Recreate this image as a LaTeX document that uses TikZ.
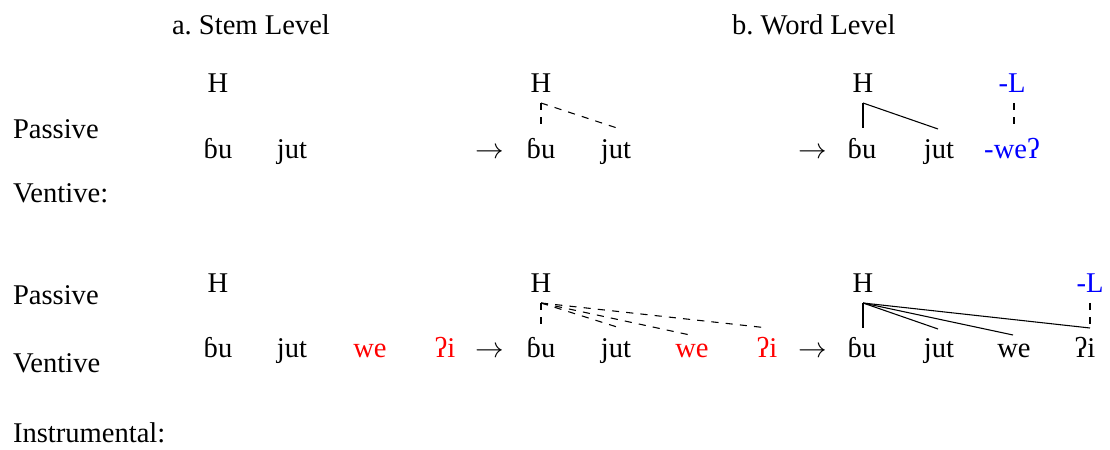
\documentclass[tikz,border=0pt]{standalone}
\usepackage{fontspec}
\setmainfont{Liberation Serif}
\begin{document}
\begin{tikzpicture}[x=0.42pt,y=-0.42pt,
  every node/.style={font=\fontsize{12}{14}\selectfont, inner sep=0pt, outer sep=0pt},
  txt/.style={anchor=base},
  lbl/.style={anchor=base west},
  red/.style={text={rgb,255:red,255;green,0;blue,0}},
  blu/.style={text={rgb,255:red,0;green,0;blue,255}},
  assoc/.style={line width=0.45pt},
  newassoc/.style={line width=0.45pt, dashed}]
\useasboundingbox (0,0) rectangle (1110,450);

% titles and labels
\node[lbl] (ta) at (172,35) {a.\ Stem Level};
\node[lbl] (tb) at (732,35) {b.\ Word Level};
\node[lbl] (p1) at (13,139) {Passive};
\node[lbl] (v1) at (13,203) {Ventive:};
\node[lbl] (p2) at (13,305) {Passive};
\node[lbl] (v2) at (13,373) {Ventive};
\node[lbl] (i2) at (13,443) {Instrumental:};

% ---------- row 1 ----------
\node[txt] (r1aH) at (218,93) {H};
\node[txt] (r1abu) at (218,159) {ɓu};
\node[txt] (r1ajut) at (292,159) {jut};
\node[txt] (r1arr1) at (490,159) {$\rightarrow$};
\node[txt] (r1bH) at (541,93) {H};
\node[txt] (r1bbu) at (541,159) {ɓu};
\node[txt] (r1bjut) at (616,159) {jut};
\node[txt] (r1arr2) at (813,159) {$\rightarrow$};
\node[txt] (r1cH) at (863,93) {H};
\node[txt,blu] (r1cL) at (1012,93) {-L};
\node[txt] (r1cbu) at (862,159) {ɓu};
\node[txt] (r1cjut) at (939,159) {jut};
\node[txt,blu] (r1cwe) at (1012,159) {-weʔ};

\coordinate (r1bHc) at (541,103);
\coordinate (r1bbut) at (541,127);
\coordinate (r1bjutt) at (617,128);
\draw[newassoc] (r1bHc) -- (r1bbut);
\draw[newassoc] (r1bHc) -- (r1bjutt);

\coordinate (r1cHc) at (863,103);
\coordinate (r1cbut) at (863,128);
\coordinate (r1cjutt) at (938,129);
\draw[assoc] (r1cHc) -- (r1cbut);
\draw[assoc] (r1cHc) -- (r1cjutt);
\coordinate (r1cLc) at (1014,103);
\coordinate (r1cwet) at (1014,128);
\draw[newassoc] (r1cLc) -- (r1cwet);

% ---------- row 2 ----------
\node[txt] (r2aH) at (218,293) {H};
\node[txt] (r2abu) at (218,358) {ɓu};
\node[txt] (r2ajut) at (292,358) {jut};
\node[txt,red] (r2awe) at (370,358) {we};
\node[txt,red] (r2ai) at (445,358) {ʔi};
\node[txt] (r2arr1) at (490,358) {$\rightarrow$};
\node[txt] (r2bH) at (541,293) {H};
\node[txt] (r2bbu) at (541,358) {ɓu};
\node[txt] (r2bjut) at (616,358) {jut};
\node[txt,red] (r2bwe) at (692,358) {we};
\node[txt,red] (r2bi) at (767,358) {ʔi};
\node[txt] (r2arr2) at (813,358) {$\rightarrow$};
\node[txt] (r2cH) at (863,293) {H};
\node[txt,blu] (r2cL) at (1090,293) {-L};
\node[txt] (r2cbu) at (862,358) {ɓu};
\node[txt] (r2cjut) at (939,358) {jut};
\node[txt] (r2cwe) at (1014,358) {we};
\node[txt] (r2ci) at (1085,358) {ʔi};

\coordinate (r2bHc) at (541,303);
\coordinate (r2bbut) at (541,327);
\coordinate (r2bjutt) at (617,327);
\coordinate (r2bwet) at (690,335);
\coordinate (r2bit) at (768,328);
\draw[newassoc] (r2bHc) -- (r2bbut);
\draw[newassoc] (r2bHc) -- (r2bjutt);
\draw[newassoc] (r2bHc) -- (r2bwet);
\draw[newassoc] (r2bHc) -- (r2bit);

\coordinate (r2cHc) at (863,303);
\coordinate (r2cbut) at (863,328);
\coordinate (r2cjutt) at (938,329);
\coordinate (r2cwet) at (1013,335);
\coordinate (r2cit) at (1090,328);
\draw[assoc] (r2cHc) -- (r2cbut);
\draw[assoc] (r2cHc) -- (r2cjutt);
\draw[assoc] (r2cHc) -- (r2cwet);
\draw[assoc] (r2cHc) -- (r2cit);
\coordinate (r2cLc) at (1090,303);
\draw[newassoc] (r2cLc) -- (r2cit);
\end{tikzpicture}
\end{document}
